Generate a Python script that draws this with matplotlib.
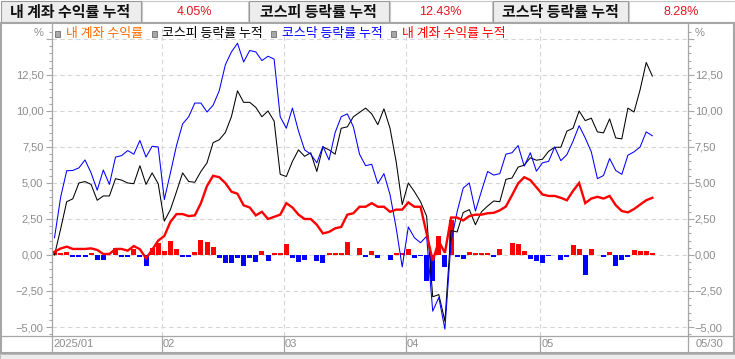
import matplotlib
matplotlib.use("Agg")
import matplotlib.pyplot as plt
from matplotlib.patches import Rectangle
from matplotlib.lines import Line2D
from matplotlib.ticker import MultipleLocator, FixedLocator, FuncFormatter
from matplotlib import transforms, font_manager

# ---------------- data ----------------
header_labels = ["내 계좌 수익률 누적", "코스피 등락률 누적", "코스닥 등락률 누적"]
header_values = ["4.05%", "12.43%", "8.28%"]

legend_labels = ["내 계좌 수익률", "코스피 등락률 누적", "코스닥 등락률 누적", "내 계좌 수익률 누적"]

month_labels = ["2025/01", "02", "03", "04", "05"]
month_start_idx = [0, 18, 38, 58, 80]
last_date_label = "05/30"

kospi = [0.0, 1.8, 3.7, 3.9, 5.0, 5.1, 4.9, 3.8, 4.1, 4.1,
         5.3, 5.2, 5.0, 4.95, 6.2, 4.9, 5.7, 4.95, 2.35, 3.15,
         4.4, 5.7, 5.1, 5.05, 5.8, 6.4, 7.8, 8.0, 8.5, 9.6,
         11.4, 10.6, 10.6, 10.25, 9.6, 10.0, 9.3, 5.6, 5.45, 6.5,
         7.3, 6.85, 7.1, 5.8, 7.5, 7.3, 7.0, 8.8, 8.9, 9.6,
         9.9, 10.2, 9.8, 9.05, 10.15, 8.8, 6.5, 3.5, 5.0, 4.4,
         3.7, 2.7, -2.9, -2.75, -4.6, 1.7, 1.6, 2.95, 3.15, 2.1,
         3.0, 3.4, 3.75, 3.7, 5.25, 5.35, 6.1, 6.24, 6.75, 6.58,
         6.65, 7.2, 7.48, 7.48, 8.6, 8.8, 10.0, 9.33, 9.5, 8.55,
         8.48, 9.45, 8.13, 8.06, 10.2, 9.93, 11.48, 13.37, 12.43]

kosdaq = [1.2, 4.0, 5.85, 5.87, 6.05, 6.6, 5.7, 4.5, 5.9, 4.9,
          6.8, 6.9, 7.25, 7.0, 7.95, 6.8, 7.55, 7.5, 3.85, 5.7,
          7.6, 9.1, 9.6, 10.55, 10.55, 9.93, 10.4, 11.4, 13.2, 14.1,
          14.7, 13.4, 14.2, 14.1, 13.5, 13.8, 13.6, 9.6, 8.8, 10.2,
          8.6, 7.3, 7.0, 6.4, 7.55, 6.6, 8.5, 9.6, 9.8, 8.9,
          7.0, 6.2, 6.3, 4.95, 5.65, 4.2, 1.9, -0.83, 1.95, 1.2,
          0.85, 1.3, -3.9, -2.95, -5.15, 0.9, 3.0, 4.65, 5.0, 3.05,
          4.45, 5.8, 5.55, 5.65, 7.0, 7.1, 7.6, 6.17, 7.1, 5.82,
          6.4, 6.5, 7.5, 6.55, 6.97, 7.9, 8.98, 8.13, 7.16, 5.3,
          5.52, 6.7, 5.87, 5.6, 6.93, 7.16, 7.5, 8.55, 8.28]

account = [0.23, 0.45, 0.58, 0.42, 0.42, 0.42, 0.46, 0.35, 0.07, 0.07,
           0.42, 0.42, 0.3, 0.62, 0.4, -0.23, 0.35, 1.0, 1.32, 2.3,
           2.84, 2.84, 2.7, 2.75, 3.6, 4.8, 5.5, 5.4, 5.0, 4.4,
           4.25, 3.45, 3.3, 2.75, 3.0, 2.5, 2.65, 2.8, 3.6, 3.3,
           2.8, 2.5, 2.5, 2.1, 1.5, 1.6, 1.85, 1.95, 2.8, 2.9,
           3.35, 3.35, 3.6, 3.35, 3.35, 3.0, 3.15, 3.15, 3.65, 3.35,
           3.35, 1.5, -0.4, 0.95, 0.15, 2.6, 2.6, 2.4, 2.7, 2.8,
           2.8, 2.9, 2.93, 3.1, 3.37, 4.15, 4.97, 5.4, 5.2, 4.7,
           4.2, 4.1, 4.1, 3.97, 3.8, 4.45, 5.0, 3.6, 3.92, 4.04,
           3.92, 4.1, 3.46, 3.05, 2.96, 3.19, 3.5, 3.8, 3.97]

daily = [0.28, 0.16, 0.23, -0.14, -0.14, -0.14, 0.16, -0.32, -0.32, 0.0,
         0.48, -0.14, -0.14, 0.4, -0.17, -0.73, 0.48, 0.85, 0.28, 0.98,
         0.44, -0.14, -0.15, 0.24, 1.05, 0.92, 0.58, -0.18, -0.53, -0.58,
         -0.18, -0.74, -0.18, -0.5, 0.31, -0.44, 0.16, 0.16, 0.78, -0.2,
         -0.49, -0.38, 0.03, -0.44, -0.55, 0.16, 0.16, 0.16, 0.92, 0.0,
         0.5, -0.11, 0.29, -0.24, 0.0, -0.38, 0.16, 0.12, 0.44, -0.2,
         -0.07, -1.8, -1.8, 1.3, -0.82, 2.45, -0.15, -0.3, 0.23, 0.15,
         0.16, 0.16, -0.14, 0.43, 0.03, 0.85, 0.77, 0.3, -0.28, -0.45,
         -0.53, -0.04, 0.02, -0.33, -0.15, 0.7, 0.44, -1.42, 0.44, 0.02,
         -0.17, 0.21, -0.74, -0.33, -0.12, 0.36, 0.3, 0.29, 0.14]

# ---------------- styling ----------------
W, H = 735, 359
KR = ["Noto Sans CJK KR", "DejaVu Sans"]
names = {f.name for f in font_manager.fontManager.ttflist}
NUM = "Liberation Sans" if "Liberation Sans" in names else "DejaVu Sans"
GRAY_TXT = "#8c8c8c"
FRAME = "#a6a6a6"

fig = plt.figure(figsize=(W / 100, H / 100), dpi=100)
fig.patch.set_facecolor("white")


def fx(px):
    return px / W


def fy(py):
    return 1 - py / H


def prect(x0, y0, x1, y1, **kw):
    fig.add_artist(Rectangle((fx(x0), fy(y1)), (x1 - x0) / W, (y1 - y0) / H,
                             transform=fig.transFigure, **kw))


def pline(xs, ys, **kw):
    fig.add_artist(Line2D([fx(x) for x in xs], [fy(y) for y in ys],
                          transform=fig.transFigure, **kw))


# ---------------- header ----------------
cells = [(0, 141), (141, 248), (248, 389), (389, 492), (492, 628), (628, 735)]
for j, (x0, x1) in enumerate(cells):
    if j % 2 == 0:
        prect(x0 + 0.5, 0.5, x1 - 0.5, 21.5, facecolor="#ededed", edgecolor="#9a9a9a", lw=0.8)
        fig.text(fx((x0 + x1) / 2), fy(11.5), header_labels[j // 2], ha="center", va="center",
                 family=KR, fontsize=10.8, fontweight="bold", color="#111111")
    else:
        prect(x0 + 0.5, 0.5, x1 - 0.5, 21.5, facecolor="white", edgecolor="#c8c8c8", lw=0.8)
        fig.text(fx((x0 + x1) / 2), fy(12), header_values[j // 2], ha="center", va="center",
                 family=NUM, fontsize=9, color="#e0141e")

# ---------------- chart frame ----------------
prect(0.8, 23, 734.2, 353, facecolor="none", edgecolor=FRAME, lw=1.5)
pline([0, 735], [335.5, 335.5], color=FRAME, lw=0.9)
pline([51.7, 51.7], [23, 353], color=FRAME, lw=0.9)
pline([687.7, 687.7], [23, 353], color=FRAME, lw=0.9)
prect(0, 353.5, 735, 359, facecolor="#ececec", edgecolor="#b0b0b0", lw=0.6)

# ---------------- axes ----------------
x = list(range(len(account)))
ax = fig.add_axes([fx(51.7), fy(335.5), (687.7 - 51.7) / W, (335.5 - 25) / H])
ax.set_xlim(-0.46, 103.8)
ax.set_ylim(-5.59, 15.97)
for s in ax.spines.values():
    s.set_visible(False)
ax.set_xticks([])

# gridlines
for gy in [-5, -2.5, 0, 2.5, 5, 7.5, 10, 12.5, 15]:
    ax.axhline(gy, color="#d6d6d6", lw=0.8, ls=(0, (4, 3)), zorder=0)
for si in month_start_idx[1:]:
    ax.axvline(si - 0.45, color="#d6d6d6", lw=0.8, ls=(0, (4, 3)), zorder=0)

# bars
bar_colors = ["#ff0000" if v >= 0 else "#0000ff" for v in daily]
ax.bar(x, daily, width=0.82, color=bar_colors, antialiased=False, zorder=2)

# lines
ax.plot(x, kospi, color="#000000", lw=0.75, zorder=3, antialiased=True)
ax.plot(x, kosdaq, color="#0000ff", lw=0.75, zorder=3, antialiased=True)
ax.plot(x, account, color="#ff0000", lw=1.7, zorder=4, solid_joinstyle="miter")

# y ticks
fmt = FuncFormatter(lambda v, p: "" if v > 14 else f"{v:.2f}".replace(".", ",").replace("-", "\u2212"))
major = [-5, -2.5, 0, 2.5, 5, 7.5, 10, 12.5, 15]
ax.yaxis.set_major_locator(FixedLocator(major))
ax.yaxis.set_minor_locator(MultipleLocator(0.5))
ax.yaxis.set_major_formatter(fmt)
ax.tick_params(axis="y", which="major", direction="out", length=4, width=0.8, color=FRAME,
               labelsize=8, labelcolor=GRAY_TXT, pad=2, left=True, right=False)
ax.tick_params(axis="y", which="minor", direction="out", length=2.2, width=0.8, color=FRAME,
               left=True, right=False)
for lab in ax.get_yticklabels():
    lab.set_family(NUM)

ax2 = ax.twinx()
ax2.set_ylim(ax.get_ylim())
for s in ax2.spines.values():
    s.set_visible(False)
ax2.yaxis.set_major_locator(FixedLocator(major))
ax2.yaxis.set_minor_locator(MultipleLocator(0.5))
ax2.yaxis.set_major_formatter(fmt)
ax2.tick_params(axis="y", which="major", direction="out", length=4, width=0.8, color=FRAME,
                labelsize=8, labelcolor=GRAY_TXT, pad=1)
ax2.tick_params(axis="y", which="minor", direction="out", length=2.2, width=0.8, color=FRAME)
for lab in ax2.get_yticklabels():
    lab.set_family(NUM)

# percent signs
fig.text(fx(44), fy(33), "%", ha="right", va="center", family=NUM, fontsize=8, color=GRAY_TXT)
fig.text(fx(694.5), fy(33), "%", ha="left", va="center", family=NUM, fontsize=8, color=GRAY_TXT)

# date row
bt = transforms.blended_transform_factory(ax.transData, fig.transFigure)
for lab, si in zip(month_labels, month_start_idx):
    ax.text(si - 0.45 + 0.25, fy(344), lab, transform=bt, ha="left", va="center",
            family=NUM, fontsize=8, color=GRAY_TXT, clip_on=False)
    if si > 0:
        ax.add_artist(Line2D([si - 0.45, si - 0.45], [fy(335.5), fy(353)], transform=bt,
                             color=FRAME, lw=0.9, clip_on=False))
fig.text(fx(710), fy(344), last_date_label, ha="center", va="center", family=NUM,
         fontsize=8, color=GRAY_TXT)

# legend row
leg_colors = ["#ff6a00", "#000000", "#0000ff", "#ff0000"]
sq_x = [55, 151.5, 271, 391.5]
tx_x = [65.5, 162.5, 282.5, 402]
for lab, c, sx, tx in zip(legend_labels, leg_colors, sq_x, tx_x):
    prect(sx, 30.5, sx + 5, 36.5, facecolor="#a8a8a8", edgecolor="#6e6e6e", lw=0.6)
    fig.text(fx(tx), fy(33.5), lab, ha="left", va="center", family=KR, fontsize=9.3, color=c)

fig.savefig("out.png", dpi=100, facecolor="white")
